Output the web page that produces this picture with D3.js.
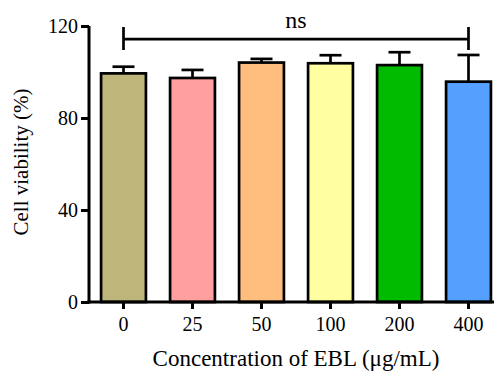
<!DOCTYPE html>
<html><head><meta charset="utf-8">
<script src="https://cdn.jsdelivr.net/npm/d3@7"></script>
<style>body{margin:0;background:#fff}svg{display:block}text{font-family:"Liberation Serif","Times New Roman",Times,Tinos,"DejaVu Serif",serif !important;fill:#000}</style>
</head><body><svg id="c" width="494" height="374"></svg>
<script>
const categories = ["0","25","50","100","200","400"];
const means = [99.4, 97.4, 104.1, 103.8, 103.0, 95.8];
const sds = [2.9, 3.5, 1.6, 3.5, 5.6, 11.6];
const colors = ["#BEB57B","#FF9F9F","#FFBE7E","#FFFFA2","#00BB00","#559FFF"];
const yTicks = [0, 40, 80, 120];
const sigLabel = "ns";
const sigLevel = 114.3;

const svg = d3.select("#c");
const x = d3.scaleBand().domain(categories).range([89, 503]).paddingInner(0.35).paddingOuter(0.175);
const y = d3.scaleLinear().domain([0, 120]).range([302, 26]);

svg.selectAll("rect.bar").data(categories).join("rect")
  .attr("x", d => x(d)).attr("width", x.bandwidth())
  .attr("y", (d,i) => y(means[i])).attr("height", (d,i) => y(0) - y(means[i]))
  .attr("fill", (d,i) => colors[i]).attr("stroke", "#000").attr("stroke-width", 2.7);

const eb = svg.selectAll("g.err").data(categories).join("g");
eb.append("line")
  .attr("x1", d => x(d) + x.bandwidth()/2).attr("x2", d => x(d) + x.bandwidth()/2)
  .attr("y1", (d,i) => y(means[i])).attr("y2", (d,i) => y(means[i] + sds[i]))
  .attr("stroke", "#000").attr("stroke-width", 2.7);
eb.append("line")
  .attr("x1", d => x(d) + x.bandwidth()/2 - 11).attr("x2", d => x(d) + x.bandwidth()/2 + 11)
  .attr("y1", (d,i) => y(means[i] + sds[i])).attr("y2", (d,i) => y(means[i] + sds[i]))
  .attr("stroke", "#000").attr("stroke-width", 2.7);

const yAxis = svg.append("g").attr("transform", "translate(89,0)")
  .call(d3.axisLeft(y).tickValues(yTicks).tickSize(8).tickPadding(3).tickFormat(d3.format("d")));
const xAxis = svg.append("g").attr("transform", `translate(0,${y(0)})`)
  .call(d3.axisBottom(x).tickSize(7).tickPadding(8));
[yAxis, xAxis].forEach(g => {
  g.attr("font-family", null).attr("font-size", null);
  g.select(".domain").attr("stroke-width", 3);
  g.selectAll(".tick line").attr("stroke-width", 3);
  g.selectAll("text").style("font-size", "20px");
});
yAxis.select(".domain").attr("d", `M0,${y(120)}V${y(0)+1.5}`);
xAxis.select(".domain").attr("d", `M${89-1.5},0H503`);

const x0 = x(categories[0]) + x.bandwidth()/2, x1 = x(categories[5]) + x.bandwidth()/2;
const by = y(sigLevel);
svg.append("path").attr("d", `M${x0},${by}H${x1}M${x0},${by-12}V${by+11}M${x1},${by-12}V${by+11}`)
  .attr("stroke", "#000").attr("stroke-width", 2.7).attr("fill", "none");
svg.append("text").attr("x", (x0 + x1)/2).attr("y", 28).attr("text-anchor", "middle")
  .style("font-size", "24px").text(sigLabel);

svg.append("text").attr("transform", "translate(28,162) rotate(-90)").attr("text-anchor", "middle")
  .style("font-size", "21px").text("Cell viability (%)");
svg.append("text").attr("x", 296).attr("y", 366).attr("text-anchor", "middle")
  .style("font-size", "23px").text("Concentration of EBL (μg/mL)");
</script></body></html>
